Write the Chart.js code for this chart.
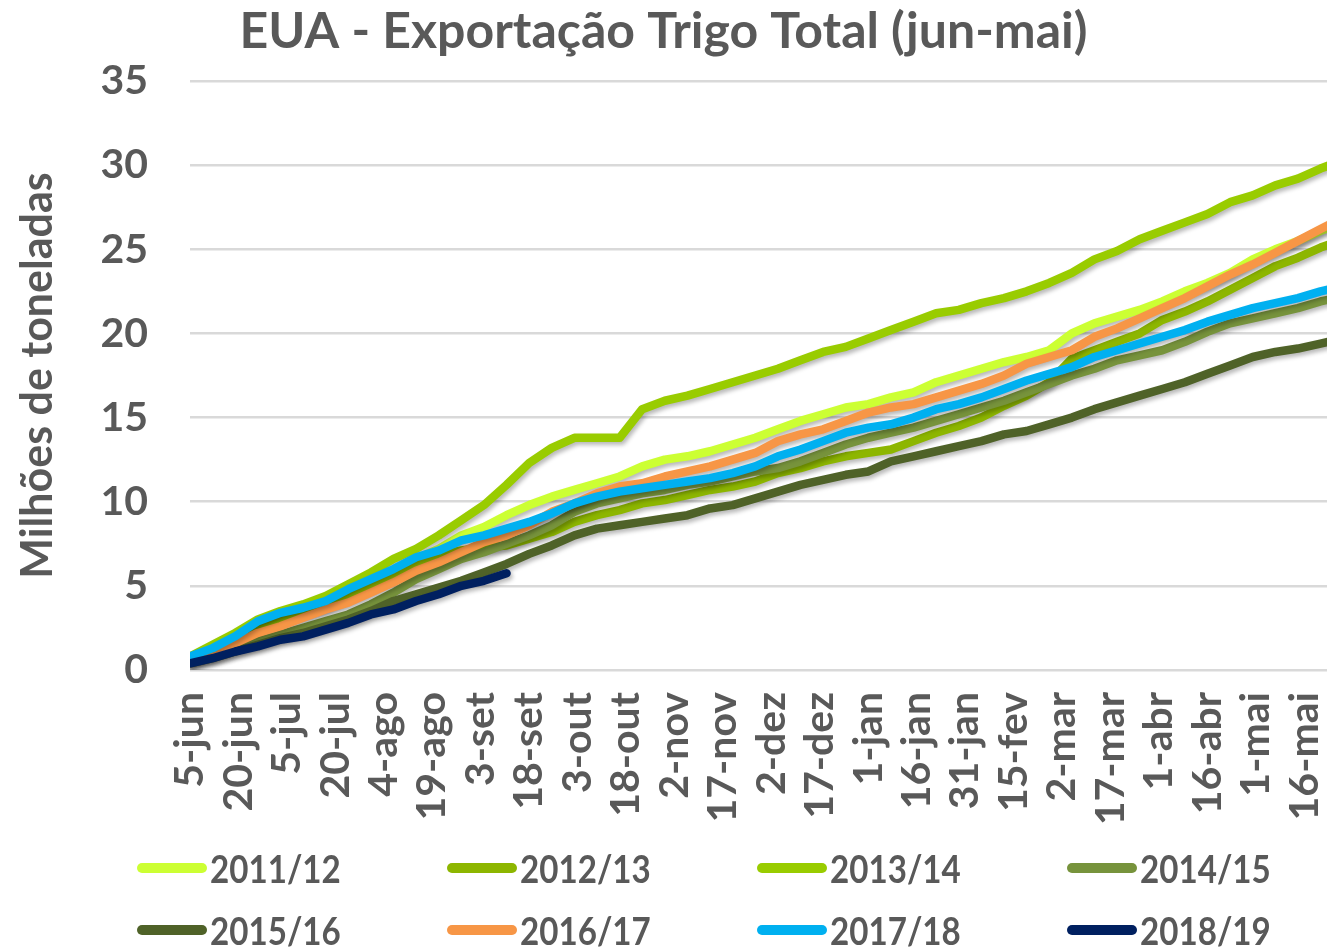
<!DOCTYPE html>
<html>
<head>
<meta charset="utf-8">
<script src="https://cdn.jsdelivr.net/npm/chart.js@4.4.0/dist/chart.umd.min.js"></script>
<style>
  html, body { margin: 0; padding: 0; background: #fff; }
  #wrap { position: relative; width: 1327px; height: 949px; overflow: hidden; }
  #legend { position: absolute; left: 0; top: 0; width: 1327px; height: 949px; pointer-events: none; }
  .item { position: absolute; height: 40px; display: flex; align-items: center; font-family: Lato, sans-serif; font-weight: bold; color: #595959; }
  .swatch { width: 70px; height: 10px; border-radius: 5px; margin-right: 3px; }
  .txt { font-size: 39px; display: inline-block; transform: scaleX(0.85); transform-origin: left center; }
</style>
</head>
<body>
<div id="wrap">
  <canvas id="chart"></canvas>
  <div id="legend"></div>
</div>
<script>
// weekly accumulated exports, million tonnes (one point per week from 5-jun)
let s2011 = [0.8,1.3,2.0,2.6,3.1,3.5,3.9,4.5,5.2,5.9,6.6,7.2,8.0,8.5,9.2,9.8,10.3,10.7,11.1,11.5,12.1,12.5,12.7,13.0,13.4,13.8,14.3,14.8,15.2,15.6,15.8,16.2,16.5,17.1,17.5,17.9,18.3,18.6,19.0,20.0,20.6,21.0,21.4,21.9,22.5,23.0,23.6,24.4,25.0,25.5,26.1,26.6];
let s2012 = [0.7,1.2,1.9,2.5,3.0,3.4,3.8,4.4,5.0,5.6,6.2,6.8,7.1,7.3,7.4,7.8,8.2,8.8,9.2,9.5,9.9,10.1,10.4,10.7,10.9,11.2,11.7,12.0,12.4,12.7,12.9,13.1,13.6,14.1,14.5,15.0,15.7,16.3,17.1,18.5,19.0,19.5,20.0,20.8,21.3,21.9,22.6,23.3,24.0,24.5,25.1,25.6];
let s2013 = [0.8,1.5,2.2,3.0,3.5,3.9,4.4,5.1,5.8,6.6,7.2,8.0,8.9,9.8,11.0,12.3,13.2,13.8,13.8,13.8,15.5,16.0,16.3,16.7,17.1,17.5,17.9,18.4,18.9,19.2,19.7,20.2,20.7,21.2,21.4,21.8,22.1,22.5,23.0,23.6,24.4,24.9,25.6,26.1,26.6,27.1,27.8,28.2,28.8,29.2,29.8,30.3];
let s2014 = [0.5,0.8,1.3,1.7,2.1,2.5,2.9,3.3,3.9,4.6,5.4,6.0,6.6,7.0,7.5,8.0,8.6,9.4,9.9,10.2,10.5,10.7,11.0,11.2,11.5,11.8,12.0,12.4,12.9,13.4,13.8,14.1,14.4,14.8,15.2,15.6,16.0,16.5,17.0,17.5,17.9,18.4,18.7,19.0,19.5,20.1,20.6,20.9,21.2,21.5,21.9,22.2];
let s2015 = [0.4,0.7,1.1,1.5,1.9,2.2,2.6,3.0,3.5,4.1,4.5,4.9,5.3,5.8,6.3,6.9,7.4,8.0,8.4,8.6,8.8,9.0,9.2,9.6,9.8,10.2,10.6,11.0,11.3,11.6,11.8,12.4,12.7,13.0,13.3,13.6,14.0,14.2,14.6,15.0,15.5,15.9,16.3,16.7,17.1,17.6,18.1,18.6,18.9,19.1,19.4,19.7];
let s2016 = [0.5,1.0,1.6,2.2,2.6,3.1,3.6,4.0,4.6,5.2,5.9,6.4,7.0,7.6,8.0,8.6,9.4,9.9,10.5,10.9,11.1,11.5,11.8,12.1,12.5,12.9,13.6,14.0,14.3,14.8,15.3,15.6,15.8,16.2,16.6,17.0,17.5,18.2,18.6,19.0,19.8,20.3,20.9,21.5,22.1,22.8,23.5,24.1,24.8,25.5,26.2,26.9];
let s2017 = [0.8,1.3,2.0,2.9,3.4,3.7,4.1,4.8,5.4,6.0,6.7,7.1,7.7,8.0,8.4,8.8,9.3,9.9,10.3,10.6,10.8,11.0,11.2,11.4,11.7,12.1,12.7,13.1,13.6,14.1,14.4,14.6,15.0,15.5,15.8,16.2,16.7,17.2,17.6,18.0,18.6,19.0,19.4,19.8,20.2,20.7,21.1,21.5,21.8,22.1,22.5,22.8];
let s2018 = [0.4,0.7,1.1,1.4,1.8,2.0,2.4,2.8,3.3,3.6,4.1,4.5,5.0,5.3,5.75];

let seasons = ['2011/12','2012/13','2013/14','2014/15','2015/16','2016/17','2017/18','2018/19'];
let seriesValues = [s2011, s2012, s2013, s2014, s2015, s2016, s2017, s2018];
let colors = ['#CCFF33','#8DB600','#99CC00','#77933C','#4F6228','#F79646','#00B0F0','#002060'];

// x tick labels every 15 days starting 5-jun
let tickLabels = ['5-jun','20-jun','5-jul','20-jul','4-ago','19-ago','3-set','18-set','3-out','18-out','2-nov','17-nov','2-dez','17-dez','1-jan','16-jan','31-jan','15-fev','2-mar','17-mar','1-abr','16-abr','1-mai','16-mai'];

let grey = '#595959';
let fontFamily = 'Lato, "Open Sans", sans-serif';

function toPoints(values) {
    // one report per week, x in days since 5-jun
    return values.map(function (v, i) { return {x: i * 7, y: v}; });
}

let datasets = seasons.map(function (name, i) {
    return {
        label: name,
        data: toPoints(seriesValues[i]),
        borderColor: colors[i],
        backgroundColor: colors[i],
        borderWidth: 8.5,
        borderJoinStyle: 'round',
        borderCapStyle: 'round',
        pointRadius: 0,
        tension: 0,
        order: seasons.length - i
    };
});

const shadowPlugin = {
    id: 'lineShadow',
    beforeDatasetsDraw(chart) {
        let ctx = chart.ctx;
        ctx.save();
        ctx.shadowColor = 'rgba(0,0,0,0.28)';
        ctx.shadowBlur = 4;
        ctx.shadowOffsetX = 2;
        ctx.shadowOffsetY = 3;
    },
    afterDatasetsDraw(chart) {
        chart.ctx.restore();
    }
};

new Chart(document.getElementById('chart'), {
    type: 'line',
    data: { datasets: datasets },
    plugins: [shadowPlugin],
    options: {
        responsive: true,
        maintainAspectRatio: false,
        animation: false,
        layout: { padding: 0 },
        plugins: {
            legend: { display: false },
            tooltip: { enabled: false },
            title: {
                display: true,
                text: 'EUA - Exportação Trigo Total (jun-mai)',
                color: grey,
                font: { family: fontFamily, size: 50, weight: 'bold' },
                padding: { top: 2, bottom: 19 }
            }
        },
        scales: {
            x: {
                type: 'linear',
                min: 0,
                max: 352,
                grid: { display: false },
                border: { display: false },
                ticks: {
                    stepSize: 15,
                    includeBounds: false,
                    autoSkip: false,
                    minRotation: 90,
                    maxRotation: 90,
                    padding: 14,
                    color: grey,
                    font: { family: fontFamily, size: 41, weight: 'bold' },
                    callback: function (value) {
                        return value % 15 === 0 ? tickLabels[value / 15] : '';
                    }
                },
                afterFit: function (scale) {
                    scale.height = 279;
                    scale.paddingLeft = 0;
                    scale.paddingRight = 0;
                }
            },
            y: {
                min: 0,
                max: 35,
                grid: { color: '#D9D9D9', lineWidth: 2.5, drawTicks: false },
                border: { display: false },
                ticks: {
                    stepSize: 5,
                    padding: 42,
                    color: grey,
                    font: { family: fontFamily, size: 41, weight: 'bold' }
                },
                title: {
                    display: true,
                    text: 'Milhões de toneladas',
                    color: grey,
                    font: { family: fontFamily, size: 43, weight: 'bold' },
                    padding: { top: 12, bottom: 0 }
                },
                afterFit: function (scale) { scale.width = 190; }
            }
        }
    }
});

// legend, 4 columns x 2 rows like the original
let legend = document.getElementById('legend');
seasons.forEach(function (name, i) {
    let item = document.createElement('div');
    item.className = 'item';
    item.style.left = (137 + (i % 4) * 310) + 'px';
    item.style.top = (848 + Math.floor(i / 4) * 62) + 'px';
    let sw = document.createElement('span');
    sw.className = 'swatch';
    sw.style.background = colors[i];
    let t = document.createElement('span');
    t.className = 'txt';
    t.innerText = name;
    item.appendChild(sw);
    item.appendChild(t);
    legend.appendChild(item);
});
</script>
</body>
</html>
